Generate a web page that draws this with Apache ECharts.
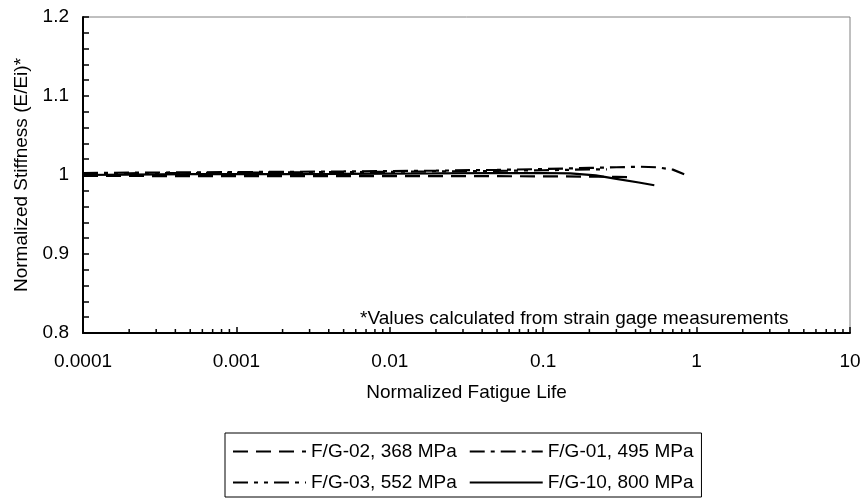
<!DOCTYPE html>
<html><head><meta charset="utf-8">
<script src="https://cdn.jsdelivr.net/npm/echarts@6/dist/echarts.min.js"></script>
<style>html,body{margin:0;padding:0;background:#fff}#c{width:864px;height:498px}</style>
</head><body><div id="c"></div>
<script>
// ---- data ----
const seriesNames = ['F/G-02, 368 MPa', 'F/G-01, 495 MPa', 'F/G-03, 552 MPa', 'F/G-10, 800 MPa'];
const fg02X = [0.0001, 0.0002, 0.0005, 0.001, 0.002, 0.005, 0.01, 0.02, 0.05, 0.1, 0.2, 0.3, 0.38];
const fg02Y = [0.999, 0.9988, 0.9985, 0.9985, 0.9987, 0.9987, 0.9985, 0.9985, 0.9985, 0.9983, 0.998, 0.9976, 0.9973];
const fg01X = [0.0001, 0.0002, 0.0005, 0.001, 0.002, 0.005, 0.01, 0.02, 0.05, 0.1, 0.2, 0.3, 0.42, 0.55, 0.7, 0.83];
const fg01Y = [1.0025, 1.003, 1.0033, 1.0037, 1.004, 1.0045, 1.005, 1.0055, 1.0065, 1.0075, 1.009, 1.0098, 1.0105, 1.0098, 1.0068, 1.001];
const fg03X = [0.0001, 0.0002, 0.0005, 0.001, 0.002, 0.005, 0.01, 0.02, 0.05, 0.1, 0.2, 0.26];
const fg03Y = [1.002, 1.0022, 1.0025, 1.003, 1.0033, 1.0037, 1.004, 1.0045, 1.0052, 1.006, 1.007, 1.0072];
const fg10X = [0.0001, 0.0002, 0.0005, 0.001, 0.002, 0.005, 0.01, 0.02, 0.05, 0.1, 0.15, 0.22, 0.3, 0.42, 0.53];
const fg10Y = [1.0, 1.0005, 1.001, 1.001, 1.0012, 1.0015, 1.0018, 1.002, 1.0025, 1.0025, 1.002, 0.9995, 0.995, 0.9905, 0.987];
const xTickValues = [0.0001, 0.001, 0.01, 0.1, 1, 10];
const xTickLabels = ['0.0001', '0.001', '0.01', '0.1', '1', '10'];
const yTickLabels = ['0.8', '0.9', '1', '1.1', '1.2'];
const xMinorTicks = [];
for (let d = -4; d < 1; d++) for (let m = 2; m <= 9; m++) xMinorTicks.push(m * Math.pow(10, d));

const pairs = (xs, ys) => xs.map((x, i) => [x, ys[i]]);
const FONT = 'Liberation Sans, Arial, sans-serif';
const FS = 19;

const chart = echarts.init(document.getElementById('c'), null, {renderer: 'canvas'});
const lineBase = (name, data, type) => ({
  name, type: 'line', data, symbol: 'none', showSymbol: false, smooth: false, animation: false,
  lineStyle: {color: '#000', width: 2.2, type},
  itemStyle: {color: '#000'}
});
chart.setOption({
  animation: false,
  backgroundColor: '#fff',
  grid: {left: 83, top: 17, width: 767, height: 316, show: true, borderColor: '#808080', borderWidth: 1},
  xAxis: {
    type: 'log', logBase: 10, min: 0.0001, max: 10,
    name: 'Normalized Fatigue Life', nameLocation: 'middle', nameGap: 50,
    nameTextStyle: {fontFamily: FONT, fontSize: FS, color: '#000'},
    axisLine: {lineStyle: {color: '#000', width: 2}},
    axisTick: {inside: true, length: 6, lineStyle: {color: '#000', width: 1.5}},
    splitLine: {show: false},
    axisLabel: {
      margin: 19, fontFamily: FONT, fontSize: FS, color: '#000',
      formatter: v => {
        const i = xTickValues.findIndex(t => Math.abs(Math.log10(t) - Math.log10(v)) < 1e-6);
        return i >= 0 ? xTickLabels[i] : '';
      }
    }
  },
  yAxis: {
    type: 'value', min: 0.8, max: 1.2, interval: 0.1,
    name: 'Normalized Stiffness (E/Ei)*', nameLocation: 'middle', nameGap: 48, nameRotate: 90,
    nameTextStyle: {fontFamily: FONT, fontSize: FS, color: '#000'},
    axisLine: {show: true, lineStyle: {color: '#000', width: 2}},
    axisTick: {show: true, inside: true, length: 6, lineStyle: {color: '#000', width: 1.5}},
    minorTick: {show: true, splitNumber: 5, length: 6, lineStyle: {color: '#000', width: 1.5}},
    splitLine: {show: false},
    axisLabel: {
      margin: 14, fontFamily: FONT, fontSize: FS, color: '#000',
      formatter: (v, i) => yTickLabels[Math.round((v - 0.8) / 0.1)]
    }
  },
  legend: {
    data: seriesNames,
    left: 225, top: 433, width: 465,
    orient: 'horizontal',
    borderColor: '#000', borderWidth: 1, padding: [9, 8, 5, 7],
    itemWidth: 73, itemHeight: 14, itemGap: 12,
    itemStyle: {opacity: 0},
    textStyle: {fontFamily: FONT, fontSize: FS, color: '#000'}
  },
  graphic: [{
    type: 'text', left: 360, top: 309,
    style: {text: '*Values calculated from strain gage measurements', font: FS + 'px ' + FONT, fill: '#000'}
  }],
  series: [
    lineBase(seriesNames[0], pairs(fg02X, fg02Y), [15, 8]),
    lineBase(seriesNames[1], pairs(fg01X, fg01Y), [15, 6, 4, 6]),
    lineBase(seriesNames[2], pairs(fg03X, fg03Y), [15, 6, 4, 6, 4, 6]),
    lineBase(seriesNames[3], pairs(fg10X, fg10Y), 'solid'),
    {
      type: 'custom', name: 'minorTicks', silent: true, animation: false,
      data: xMinorTicks.map(v => [v, 0.8]),
      renderItem: (params, api) => {
        const p = api.coord([api.value(0), api.value(1)]);
        return {type: 'line', shape: {x1: p[0], y1: p[1], x2: p[0], y2: p[1] - 4},
          style: {stroke: '#000', lineWidth: 1.5}};
      }
    }
  ]
});
</script></body></html>
